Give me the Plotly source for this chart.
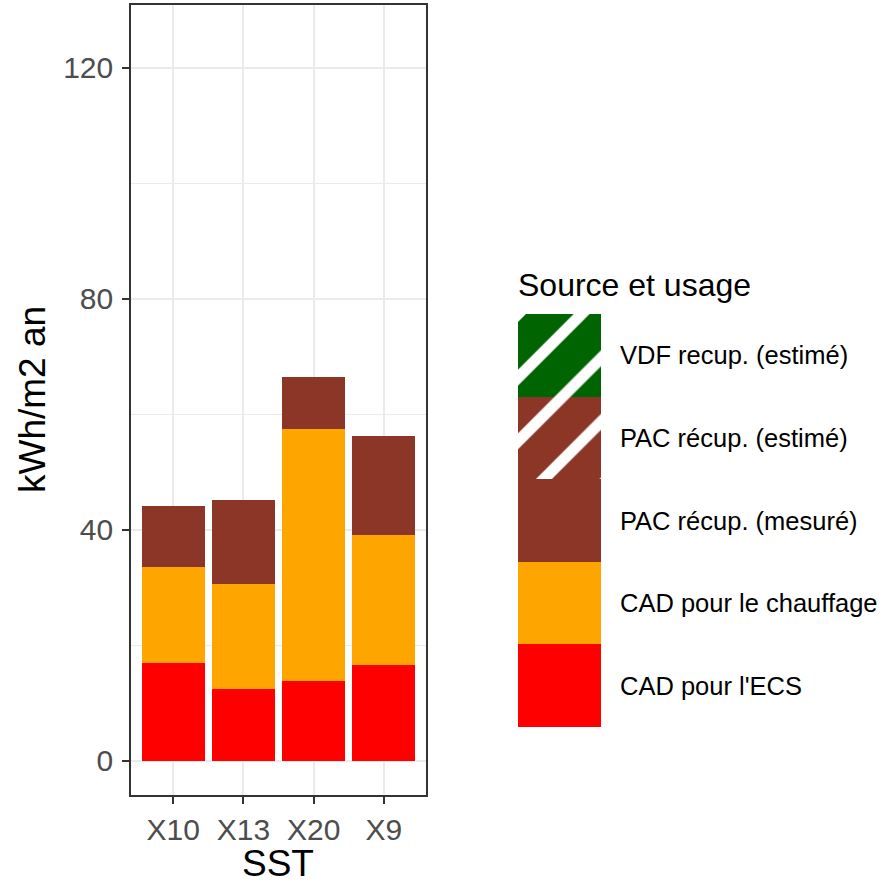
import plotly.graph_objects as go

sst = ["X10", "X13", "X20", "X9"]
cad_ecs = [17.0, 12.5, 13.9, 16.6]
cad_chauffage = [16.6, 18.1, 43.6, 22.5]
pac_mesure = [10.6, 14.6, 9.0, 17.2]
pac_estime = [0, 0, 0, 0]
vdf_estime = [0, 0, 0, 0]

legend_labels = ["CAD pour l'ECS", "CAD pour le chauffage", "PAC récup. (mesuré)",
                 "PAC récup. (estimé)", "VDF recup. (estimé)"]
legend_colors = ["#FF0000", "#FFA500", "#8B3626", "#8B3626", "#006400"]
legend_hatched = [False, False, False, True, True]
y_ticks = [0, 40, 80, 120]
y_minor = [20, 60, 100]

W, H = 884, 885
FONT = "Liberation Sans, Arial, sans-serif"

fig = go.Figure()
series = [cad_ecs, cad_chauffage, pac_mesure, pac_estime, vdf_estime]
for vals, name, col, hatch in zip(series, legend_labels, legend_colors, legend_hatched):
    pat = dict(shape="/", fgcolor="white", fgopacity=1, bgcolor=col, size=45, solidity=0.25) if hatch else dict(shape="")
    fig.add_trace(go.Bar(x=sst, y=vals, name=name, marker=dict(color=col, line=dict(width=0), pattern=pat),
                         width=0.9, showlegend=False))

# legend keys drawn as stacked bars on a secondary axis
for name, col, hatch in zip(legend_labels, legend_colors, legend_hatched):
    pat = dict(shape="/", fgcolor="white", fgopacity=1, bgcolor=col, size=45, solidity=0.25) if hatch else dict(shape="")
    fig.add_trace(go.Bar(x=["k"], y=[1], marker=dict(color=col, line=dict(width=0), pattern=pat),
                         width=1, showlegend=False, xaxis="x2", yaxis="y2", hoverinfo="skip"))

px0, px1, py0, py1 = 131, 426, 5, 795
lx0, lx1, ly0, ly1 = 518, 601, 314, 727

fig.update_layout(
    width=W, height=H, margin=dict(l=0, r=0, t=0, b=0),
    barmode="stack", bargap=0,
    paper_bgcolor="white", plot_bgcolor="white",
    font=dict(family=FONT, color="black"),
    xaxis=dict(domain=[px0 / W, px1 / W], range=[-0.6, 3.6], type="category",
               showgrid=True, gridcolor="#EBEBEB", gridwidth=2.2,
               showline=True, linecolor="#333333", linewidth=1.6, mirror=True,
               ticks="outside", ticklen=7, tickwidth=2.2, tickcolor="#333333",
               tickfont=dict(size=30, color="#4D4D4D", family=FONT),
               zeroline=False, anchor="y"),
    yaxis=dict(domain=[1 - py1 / H, 1 - py0 / H], range=[-5.9, 130.9],
               tickvals=y_ticks,
               showgrid=True, gridcolor="#EBEBEB", gridwidth=2.2,
               minor=dict(tickvals=y_minor, showgrid=True, gridcolor="#EBEBEB", gridwidth=1.1, ticklen=0),
               showline=True, linecolor="#333333", linewidth=1.6, mirror=True,
               ticks="outside", ticklen=7, tickwidth=2.2, tickcolor="#333333",
               ticklabelstandoff=3,
               tickfont=dict(size=30, color="#4D4D4D", family=FONT),
               zeroline=False, anchor="x"),
    xaxis2=dict(domain=[lx0 / W, lx1 / W], range=[-0.5, 0.5], visible=False, anchor="y2", fixedrange=True),
    yaxis2=dict(domain=[1 - ly1 / H, 1 - ly0 / H], range=[0, 5], visible=False, anchor="x2", fixedrange=True),
)

key_h = (ly1 - ly0) / 5
for i, name in enumerate(legend_labels):
    yc = ly1 - key_h * (i + 0.5)
    fig.add_annotation(x=618 / W, y=1 - yc / H, xref="paper", yref="paper", text=name,
                       showarrow=False, xanchor="left", yanchor="middle",
                       font=dict(size=25.5, color="black", family=FONT))
fig.add_annotation(x=516 / W, y=1 - 285 / H, xref="paper", yref="paper", text="Source et usage",
                   showarrow=False, xanchor="left", yanchor="middle",
                   font=dict(size=32, color="black", family=FONT))
fig.add_annotation(x=278 / W, y=0, xref="paper", yref="paper", text="SST",
                   showarrow=False, xanchor="center", yanchor="bottom", borderpad=0,
                   font=dict(size=37, color="black", family=FONT))
fig.add_annotation(x=32 / W, y=1 - 400 / H, xref="paper", yref="paper", text="kWh/m2 an",
                   showarrow=False, xanchor="center", yanchor="middle", textangle=-90,
                   font=dict(size=37, color="black", family=FONT))

fig.write_html("out.html")
